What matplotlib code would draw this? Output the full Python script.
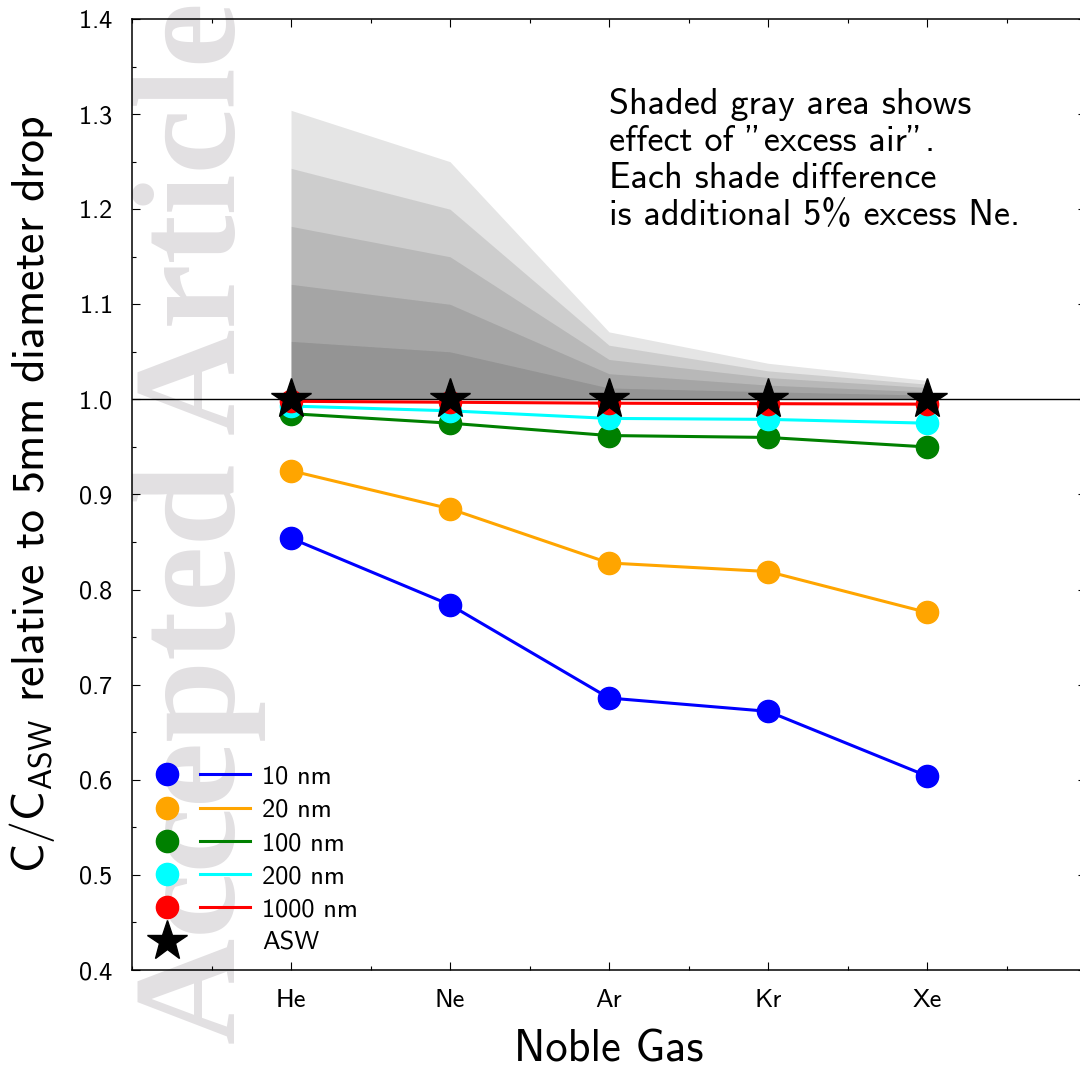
import matplotlib
matplotlib.use("Agg")
import matplotlib.pyplot as plt
from matplotlib.lines import Line2D
from matplotlib.legend_handler import HandlerTuple
from matplotlib.ticker import MultipleLocator

plt.rcParams['font.family'] = ['cmss10', 'DejaVu Sans']
plt.rcParams['mathtext.fontset'] = 'custom'
plt.rcParams['mathtext.rm'] = 'cmss10'
plt.rcParams['mathtext.sf'] = 'cmss10'
plt.rcParams['mathtext.it'] = 'cmss10'
plt.rcParams['axes.formatter.use_mathtext'] = True
plt.rcParams['axes.unicode_minus'] = False

gases = ["He", "Ne", "Ar", "Kr", "Xe"]
x_pos = [1, 2, 3, 4, 5]

sizes = ["10 nm", "20 nm", "100 nm", "200 nm", "1000 nm"]
colors = ["blue", "orange", "green", "cyan", "red"]
ratio_10nm = [0.854, 0.784, 0.686, 0.672, 0.604]
ratio_20nm = [0.925, 0.885, 0.828, 0.819, 0.776]
ratio_100nm = [0.985, 0.975, 0.962, 0.960, 0.950]
ratio_200nm = [0.993, 0.988, 0.980, 0.979, 0.975]
ratio_1000nm = [0.998, 0.997, 0.996, 0.9955, 0.995]
asw = [1.0, 1.0, 1.0, 1.0, 1.0]

# excess air levels (5%,10%,...,25% excess Ne)
excess_5 = [1.061, 1.050, 1.012, 1.008, 1.0045]
excess_10 = [1.121, 1.100, 1.027, 1.015, 1.008]
excess_15 = [1.182, 1.150, 1.042, 1.023, 1.0125]
excess_20 = [1.243, 1.200, 1.057, 1.030, 1.016]
excess_25 = [1.304, 1.250, 1.071, 1.038, 1.020]

series = [ratio_10nm, ratio_20nm, ratio_100nm, ratio_200nm, ratio_1000nm]
excess = [excess_5, excess_10, excess_15, excess_20, excess_25]

fig = plt.figure(figsize=(10.8, 10.66), dpi=100)
ax = fig.add_axes([132/1080, 96/1066, 954/1080, 951/1066])
ax.set_facecolor('none')

# watermark
fig.text(266/1080, 22/1066, "Accepted Article", rotation=90, ha='right', va='bottom',
         fontsize=106, color='#e2e0e2', family='Liberation Serif', fontweight='bold',
         zorder=-5)

for lev in excess:
    ax.fill_between(x_pos, 1.0, lev, color='k', alpha=0.1, linewidth=0, zorder=1)

ax.axhline(1.0, color='k', lw=1.0, zorder=2)

handles = []
for vals, c in zip(series, colors):
    ax.plot(x_pos, vals, '-', color=c, lw=2.2, zorder=3)
    ax.plot(x_pos, vals, 'o', color=c, ms=16, zorder=3)
    handles.append((Line2D([], [], marker='o', ls='none', color=c, ms=16),
                    Line2D([], [], ls='-', color=c, lw=2.2)))
ax.plot(x_pos, asw, '*', color='k', ms=30, zorder=4)
handles.append((Line2D([], [], marker='*', ls='none', color='k', ms=30),
                Line2D([], [], ls='none')))

ax.legend(handles, sizes + ["ASW"], handler_map={tuple: HandlerTuple(ndivide=None, pad=0.3)},
          loc='lower left', bbox_to_anchor=(0.0105, 0.016), frameon=False, fontsize=19,
          handlelength=4.1, handletextpad=0.45, labelspacing=0.37, borderpad=0, borderaxespad=0)

ax.text(3.0, 1.327, "Shaded gray area shows\neffect of \"excess air\".\nEach shade difference\nis additional 5% excess Ne.",
        fontsize=26, ha='left', va='top', linespacing=1.15)

ax.set_xlim(0, 6)
ax.set_ylim(0.4, 1.4)
ax.set_xticks(x_pos)
ax.set_xticklabels(gases)
ax.xaxis.set_minor_locator(MultipleLocator(0.5))
ax.yaxis.set_major_locator(MultipleLocator(0.1))
ax.yaxis.set_minor_locator(MultipleLocator(0.05))
ax.tick_params(which='both', direction='in', top=True, right=True, width=0.8, labelsize=19)
ax.tick_params(which='major', length=5.8, pad=14)
ax.tick_params(which='minor', length=2.9)
for s in ax.spines.values():
    s.set_linewidth(1.1)

ax.set_xlabel("Noble Gas", fontsize=32, labelpad=12)
ax.set_ylabel(r"C/C$_{\mathrm{ASW}}$ relative to 5mm diameter drop", fontsize=33, labelpad=15)

fig.savefig("out.png", dpi=100)
